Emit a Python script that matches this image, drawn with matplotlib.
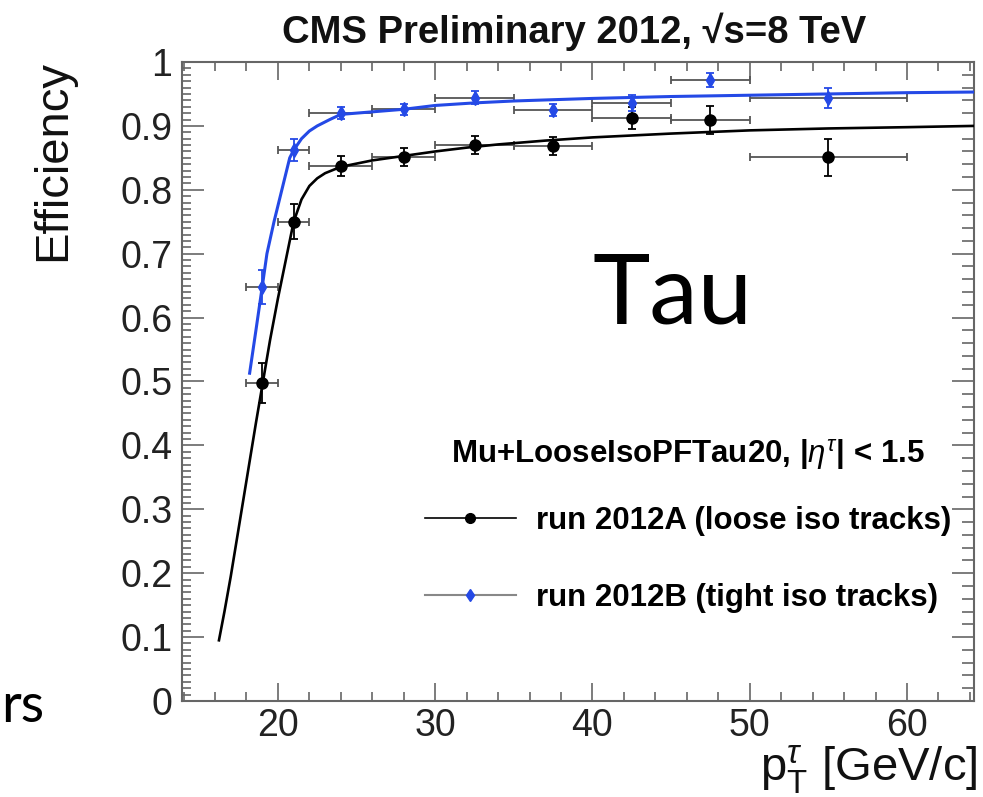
import matplotlib
matplotlib.use("Agg")
from matplotlib import pyplot as plt
from matplotlib.lines import Line2D
import matplotlib.ticker as ticker

# pT bins (GeV/c)
bin_lo = [18, 20, 22, 26, 30, 35, 40, 45, 50]
bin_hi = [20, 22, 26, 30, 35, 40, 45, 50, 60]

# run 2012A (loose iso tracks)
eff_a = [0.498, 0.750, 0.837, 0.851, 0.870, 0.868, 0.912, 0.909, 0.851]
err_a = [0.031, 0.027, 0.016, 0.014, 0.014, 0.014, 0.017, 0.022, 0.029]
# run 2012B (tight iso tracks)
eff_b = [0.648, 0.862, 0.920, 0.926, 0.944, 0.925, 0.936, 0.972, 0.944]
err_b = [0.027, 0.017, 0.009, 0.009, 0.010, 0.010, 0.012, 0.011, 0.016]

# fitted turn-on curves
fit_a_x = [16.25, 16.6, 17.0, 17.4, 17.8, 18.2, 18.6, 19.05, 19.5, 20.0, 20.5, 21.0,
           21.5, 22.0, 22.5, 23.0, 24.0, 26.0, 28.0, 30.0, 32.0, 34.0, 37.0, 40.0,
           45.0, 50.0, 55.0, 60.0, 64.3]
fit_a_y = [0.095, 0.14, 0.195, 0.255, 0.315, 0.375, 0.435, 0.50, 0.565, 0.63, 0.69,
           0.75, 0.785, 0.806, 0.818, 0.826, 0.836, 0.846, 0.853, 0.860, 0.866, 0.871,
           0.877, 0.882, 0.888, 0.893, 0.896, 0.898, 0.900]
fit_b_x = [18.2, 18.6, 19.0, 19.3, 19.75, 20.25, 20.75, 21.0, 21.5, 22.0, 22.5, 23.3,
           24.0, 26.0, 28.0, 30.0, 32.5, 35.0, 40.0, 45.0, 50.0, 55.0, 60.0, 64.3]
fit_b_y = [0.513, 0.58, 0.648, 0.70, 0.75, 0.80, 0.85, 0.862, 0.88, 0.892, 0.90, 0.91,
           0.918, 0.922, 0.926, 0.932, 0.936, 0.939, 0.943, 0.946, 0.948, 0.950, 0.952,
           0.953]

x_mid = [(a + b) / 2 for a, b in zip(bin_lo, bin_hi)]
x_half = [(b - a) / 2 for a, b in zip(bin_lo, bin_hi)]

plt.rcParams['font.family'] = ['Liberation Sans', 'DejaVu Sans']
plt.rcParams['mathtext.fontset'] = 'custom'
plt.rcParams['mathtext.rm'] = 'Liberation Sans'
plt.rcParams['mathtext.it'] = 'Liberation Sans:italic'
plt.rcParams['mathtext.bf'] = 'Liberation Sans:bold'

W, H = 983, 797
fig = plt.figure(figsize=(W / 100, H / 100), dpi=100)
ax = fig.add_axes([182 / W, 96 / H, 792 / W, 639 / H])

blue = '#2449e6'
grey = '#555555'

# horizontal bin widths
ax.errorbar(x_mid, eff_a, xerr=x_half, fmt='none', ecolor=grey, elinewidth=1.3,
            capsize=3, capthick=1.3, zorder=2)
ax.errorbar(x_mid, eff_b, xerr=x_half, fmt='none', ecolor=grey, elinewidth=1.3,
            capsize=3, capthick=1.3, zorder=2)
# fits
ax.plot(fit_a_x, fit_a_y, color='black', lw=1.9, zorder=3)
ax.plot(fit_b_x, fit_b_y, color=blue, lw=2.2, zorder=3)
# vertical errors + markers
ax.errorbar(x_mid, eff_a, yerr=err_a, fmt='o', color='black', ms=8, ecolor='black',
            elinewidth=1.3, capsize=3, capthick=1.3, zorder=4)
ax.errorbar(x_mid, eff_b, yerr=err_b, fmt='d', color=blue, ms=7, ecolor=blue,
            elinewidth=1.3, capsize=3, capthick=1.3, zorder=4)

ax.set_xlim(13.9, 64.26)
ax.set_ylim(0, 1)

ax.xaxis.set_major_locator(ticker.MultipleLocator(10))
ax.xaxis.set_minor_locator(ticker.MultipleLocator(2))
ax.yaxis.set_major_locator(ticker.MultipleLocator(0.1))
ax.yaxis.set_minor_locator(ticker.MultipleLocator(0.01))
ax.yaxis.set_major_formatter(ticker.FuncFormatter(lambda v, p: '%g' % round(v, 2)))

for s in ax.spines.values():
    s.set_color('#666666')
    s.set_linewidth(1.5)
ax.tick_params(which='both', direction='in', color='#666666', width=1.2,
               labelsize=27, labelcolor='#222222')
ax.tick_params(axis='x', which='major', length=13, top=True, pad=5)
ax.tick_params(axis='x', which='minor', length=6.5, top=True)
ax.tick_params(axis='y', which='major', length=16, pad=7)
ax.tick_params(axis='y', which='minor', length=6.5)

# right axis with coarser subdivisions
ax2 = ax.secondary_yaxis('right')
ax2.yaxis.set_major_locator(ticker.MultipleLocator(0.1))
ax2.yaxis.set_minor_locator(ticker.MultipleLocator(0.02))
ax2.tick_params(which='both', direction='in', color='#666666', width=1.2, labelright=False)
ax2.tick_params(which='major', length=16)
ax2.tick_params(which='minor', length=8.5)
ax2.spines['right'].set_visible(False)

fig.text(574 / W, 1 - 43 / H, 'CMS Preliminary 2012, \u221as=8 TeV', ha='center',
         va='baseline', fontsize=27.5, fontweight='bold', color='#111111')
fig.text(53 / W, 1 - 60 / H, 'Efficiency', rotation=90, ha='center', va='top',
         fontsize=34, color='#111111')
fig.text(977 / W, 1 - 781 / H, r'$\mathrm{p}^{\tau}_{\mathrm{T}}$ [GeV/c]', ha='right',
         va='baseline', fontsize=34, color='#111111')

fig.text(592 / W, 1 - 323 / H, 'Tau', ha='left', va='baseline', fontsize=70,
         family='Lato', color='black')
fig.text(1 / W, 1 - 722 / H, 'rs', ha='left', va='baseline', fontsize=39,
         family='Lato', color='black')

handles = [Line2D([], [], color='black', lw=1.2, marker='o', ms=7),
           Line2D([], [], color='#888888', lw=1.5, marker='d', ms=6, mfc=blue, mec=blue)]
leg = ax.legend(handles, ['run 2012A (loose iso tracks)', 'run 2012B (tight iso tracks)'],
                title='Mu+LooseIsoPFTau20, |$\\eta^{\\tau}$| < 1.5', frameon=False,
                prop={'size': 22.5, 'weight': 'bold'}, handlelength=2.9, handletextpad=0.65,
                labelspacing=1.5, loc='center', bbox_to_anchor=(688 / W, 1 - 525 / H),
                bbox_transform=fig.transFigure, borderaxespad=0)
leg.get_title().set_fontsize(22.5)
leg.get_title().set_fontweight('bold')
leg._legend_box.sep = 24

fig.savefig('out.png', dpi=100)
